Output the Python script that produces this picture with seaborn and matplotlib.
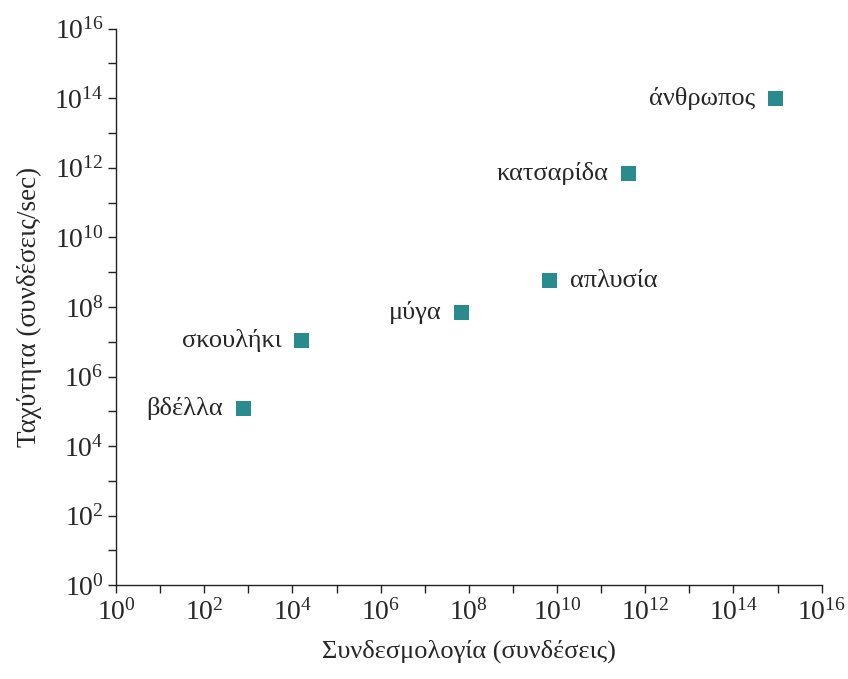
import numpy as np
import matplotlib
matplotlib.use("Agg")
import matplotlib.pyplot as plt
import seaborn as sns
import pandas as pd
from matplotlib.ticker import LogLocator, FuncFormatter

# data
animals = ['βδέλλα', 'σκουλήκι', 'μύγα', 'απλυσία', 'κατσαρίδα', 'άνθρωπος']
connections = [7.7e2, 1.6e4, 6.8e7, 6.7e9, 4.1e11, 8.9e14]
speed = [1.2e5, 1.1e7, 7.0e7, 5.6e8, 6.8e11, 9.8e13]
label_side = ['left', 'left', 'left', 'right', 'left', 'left']

df = pd.DataFrame({'animal': animals, 'conn': connections, 'speed': speed})

sns.set_theme(style='ticks')
plt.rcParams['font.family'] = ['Liberation Serif', 'DejaVu Serif']
plt.rcParams['mathtext.fontset'] = 'custom'
plt.rcParams['mathtext.rm'] = 'Liberation Serif'
plt.rcParams['mathtext.it'] = 'Liberation Serif:italic'

fig = plt.figure(figsize=(8.48, 6.79), dpi=100)
ax = fig.add_axes([0.1368, 0.138, 0.969 - 0.1368, 0.958 - 0.138])

sns.scatterplot(data=df, x='conn', y='speed', marker='s', s=120,
                color='#2a8b8f', edgecolor='none', ax=ax, zorder=3)

ax.set_xscale('log')
ax.set_yscale('log')
ax.set_xlim(1, 1e16)
ax.set_ylim(1, 1e16)

for a in (ax.xaxis, ax.yaxis):
    a.set_major_locator(LogLocator(base=10, numticks=40))
    a.set_minor_locator(LogLocator(base=10, subs=[], numticks=40))

def fmt(v, pos):
    e = int(round(np.log10(v)))
    if e % 2:
        return ''
    return r'$10^{%d}$' % e

ax.xaxis.set_major_formatter(FuncFormatter(fmt))
ax.yaxis.set_major_formatter(FuncFormatter(fmt))
ax.tick_params(axis='both', which='major', direction='out', length=6,
               width=1, color='#222222', labelsize=20, pad=4)
ax.tick_params(axis='y', pad=3)

for sp in ['top', 'right']:
    ax.spines[sp].set_visible(False)
for sp in ['left', 'bottom']:
    ax.spines[sp].set_linewidth(1)
    ax.spines[sp].set_color('#222222')

for name, x, y, side in zip(animals, connections, speed, label_side):
    if side == 'left':
        ax.annotate(name, (x, y), xytext=(-14.5, 0), textcoords='offset points',
                    ha='right', va='center', fontsize=19)
    else:
        ax.annotate(name, (x, y), xytext=(14.5, 0), textcoords='offset points',
                    ha='left', va='center', fontsize=19)

ax.set_xlabel('Συνδεσμολογία (συνδέσεις)', fontsize=19, labelpad=10)
ax.set_ylabel('Ταχύτητα (συνδέσεις/sec)', fontsize=19.5, labelpad=9)

fig.savefig('out.png', dpi=100, facecolor='white')
